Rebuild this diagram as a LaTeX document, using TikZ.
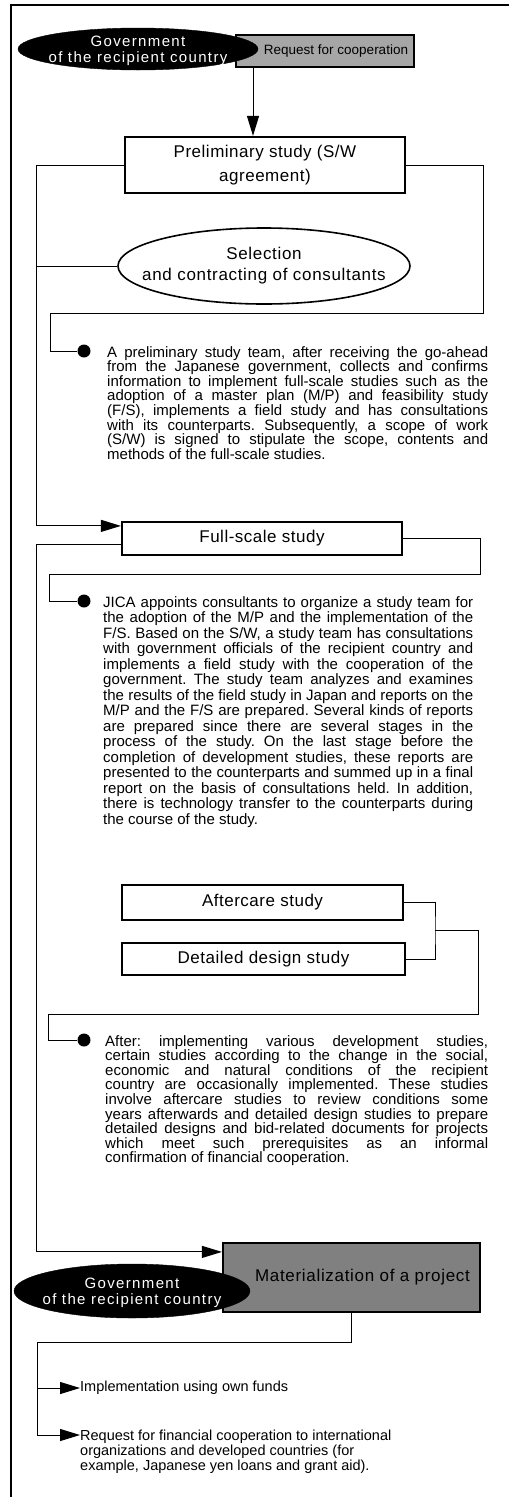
\documentclass[tikz,border=0pt]{standalone}
\usepackage{fontspec}
\setmainfont{Liberation Sans}
\usetikzlibrary{shapes.geometric,arrows.meta,calc}
\setlength{\parindent}{0pt}
\newlength{\jw}
\newcommand{\jl}[1]{\hbox to \jw{#1}}
\newcommand{\lastl}[1]{\hbox{#1}}
\begin{document}
\begin{tikzpicture}[x=1pt,y=-1pt,
  frame/.style={line width=1.8pt},
  conn/.style={line width=1pt},
  arr/.style={line width=1pt,-{Triangle[length=20pt,width=12pt]}},
  boxn/.style={draw,line width=2.2pt,fill=white,inner sep=0pt,align=center,font=\fontsize{17}{24}\selectfont\addfontfeature{LetterSpace=3}},
  govell/.style={ellipse,fill=black,draw=black,inner sep=0pt},
  govtxt/.style={text=white,align=center,inner sep=0pt,font=\fontsize{15}{15.5}\selectfont\addfontfeature{LetterSpace=9}},
  dot/.style={circle,fill=black,inner sep=0pt,minimum size=13pt},
  para/.style={anchor=base west,inner sep=0pt},
  small/.style={inner sep=0pt,font=\fontsize{14.5}{15}\selectfont},
]
\useasboundingbox (0,0) rectangle (509,1497);
\draw[frame] (11,1497) -- (11,5) -- (509,5);

% top
\node[draw,line width=2.2pt,fill=black!35,minimum width=178pt,minimum height=32pt,inner sep=0pt,font=\fontsize{13.5}{16}\selectfont] (req) at (325,51) {\hspace*{22pt}Request for cooperation};
\node[govell,minimum width=240pt,minimum height=42pt] (gov1) at (138,49) {};
\node[govtxt] (gov1t) at (138,51) {Government\\of the recipient country};

\node[boxn,minimum width=280pt,minimum height=56pt] (prelim) at (265,165) {Preliminary study (S/W\\agreement)};
\coordinate (xa) at (253,0);
\draw[arr] (req.south -| xa) -- (prelim.north -| xa);

\node[ellipse,draw,line width=1.6pt,fill=white,minimum width=292pt,minimum height=76pt,inner sep=0pt] (sel) at (264,266) {};
\node[inner sep=0pt,align=center,font=\fontsize{17}{21}\selectfont\addfontfeature{LetterSpace=4}] (selt) at (264,266) {Selection\\and contracting of consultants};

\coordinate (L) at (36,0);
\node[boxn,minimum width=280pt,minimum height=33pt] (full) at (262,538.5) {Full-scale study};
\coordinate (fullin) at ($(full.north west)+(0,5)$);
\draw[arr] (prelim.west) -| (fullin -| L) -- (fullin);
\draw[conn] (sel.west -| L) -- (sel.west);

\node[dot] (b1) at (84,351) {};
\coordinate (r1) at (483,313);
\coordinate (k1) at (50,313);
\draw[conn] (prelim.east) -| (r1) -- (k1) |- (b1);

\node[para] (p1) at (107,357) {\fontsize{15}{14.6}\selectfont\frenchspacing\setlength{\jw}{381pt}\vtop{%
\jl{A preliminary study team, after receiving the go-ahead}
\jl{from the Japanese government, collects and confirms}
\jl{information to implement full-scale studies such as the}
\jl{adoption of a master plan (M/P) and feasibility study}
\jl{(F/S), implements a field study and has consultations}
\jl{with its counterparts. Subsequently, a scope of work}
\jl{(S/W) is signed to stipulate the scope, contents and}
\lastl{methods of the full-scale studies.}}};

% full-scale
\node[dot] (b2) at (84,601) {};
\coordinate (r2) at (480,574);
\coordinate (k2) at (49,574);
\draw[conn] (full.east) -| (r2) -- (k2) |- (b2);

\node[para] (p2) at (103,607) {\fontsize{15}{15.5}\selectfont\frenchspacing\setlength{\jw}{370pt}\vtop{%
\jl{JICA appoints consultants to organize a study team for}
\jl{the adoption of the M/P and the implementation of the}
\jl{F/S. Based on the S/W, a study team has consultations}
\jl{with government officials of the recipient country and}
\jl{implements a field study with the cooperation of the}
\jl{government. The study team analyzes and examines}
\jl{the results of the field study in Japan and reports on the}
\jl{M/P and the F/S are prepared. Several kinds of reports}
\jl{are prepared since there are several stages in the}
\jl{process of the study. On the last stage before the}
\jl{completion of development studies, these reports are}
\jl{presented to the counterparts and summed up in a final}
\jl{report on the basis of consultations held. In addition,}
\jl{there is technology transfer to the counterparts during}
\lastl{the course of the study.}}};

% aftercare / detailed
\node[boxn,minimum width=281pt,minimum height=35pt] (after) at (262.5,902.5) {Aftercare study};
\node[boxn,minimum width=283pt,minimum height=32pt] (detail) at (263.5,959) {Detailed design study};
\coordinate (j) at (435,930);
\draw[conn] (after.east) -| (j) |- (detail.east);
\node[dot] (b3) at (84,1040) {};
\coordinate (r3) at (478,1014);
\coordinate (k3) at (48,1014);
\draw[conn] (j) -| (r3) -- (k3) |- (b3);

\node[para] (p3) at (105,1046) {\fontsize{15}{14.6}\selectfont\frenchspacing\setlength{\jw}{383pt}\vtop{%
\jl{After: implementing various development studies,}
\jl{certain studies according to the change in the social,}
\jl{economic and natural conditions of the recipient}
\jl{country are occasionally implemented. These studies}
\jl{involve aftercare studies to review conditions some}
\jl{years afterwards and detailed design studies to prepare}
\jl{detailed designs and bid-related documents for projects}
\jl{which meet such prerequisites as an informal}
\lastl{confirmation of financial cooperation.}}};

% materialization
\node[draw,line width=2.2pt,fill=black!50,minimum width=257pt,minimum height=69pt,inner sep=0pt,font=\fontsize{17}{20}\selectfont\addfontfeature{LetterSpace=4}] (mat) at (351.5,1277.5) {\hspace*{22pt}Materialization of a project};
\coordinate (fullout) at ($(full.south west)+(0,-12)$);
\coordinate (matin) at ($(mat.north west)+(0,10)$);
\draw[arr] (fullout) -- (fullout -| L) -- (matin -| L) -- (matin);
\node[govell,minimum width=236pt,minimum height=54pt] (gov2) at (132,1291) {};
\node[govtxt] (gov2t) at (132,1293) {Government\\of the recipient country};

% outcomes
\coordinate (k4) at (37,1342);
\draw[conn] (mat.south) |- (k4);
\node[small,anchor=west] (impl) at (80,1388) {Implementation using own funds};
\node[small,anchor=base west] (rqf) at (80,1440) {\vtop{%
\hbox{Request for financial cooperation to international}
\hbox{organizations and developed countries (for}
\hbox{example, Japanese yen loans and grant aid).}}};
\coordinate (rq) at ($(rqf.base west)+(0,-5)$);
\draw[arr] (k4) |- (impl.west);
\draw[arr] (k4) |- (rq);
\end{tikzpicture}
\end{document}
